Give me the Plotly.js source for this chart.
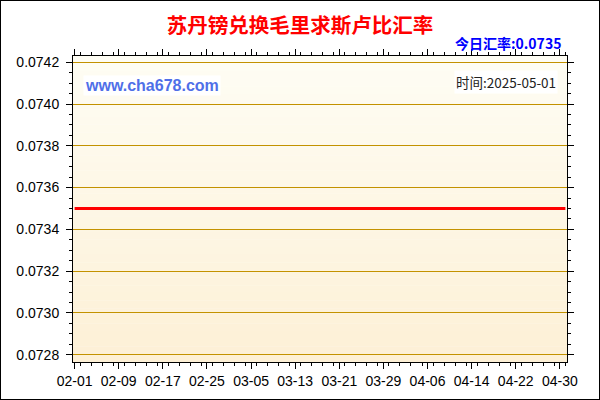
<!DOCTYPE html>
<html>
<head>
<meta charset="utf-8">
<script src="https://cdn.plot.ly/plotly-3.0.1.min.js"></script>
<style>
    body { margin: 0; background: #fff; }
    #chart { width: 598px; height: 398px; border: 1px solid #000; }
</style>
</head>
<body>
<div id="chart"></div>
<script>
// daily rate, Sudanese pound -> Mauritian rupee
var dates = [
    '2025-02-01','2025-02-02','2025-02-03','2025-02-04','2025-02-05','2025-02-06','2025-02-07','2025-02-08','2025-02-09','2025-02-10',
    '2025-02-11','2025-02-12','2025-02-13','2025-02-14','2025-02-15','2025-02-16','2025-02-17','2025-02-18','2025-02-19','2025-02-20',
    '2025-02-21','2025-02-22','2025-02-23','2025-02-24','2025-02-25','2025-02-26','2025-02-27','2025-02-28',
    '2025-03-01','2025-03-02','2025-03-03','2025-03-04','2025-03-05','2025-03-06','2025-03-07','2025-03-08','2025-03-09','2025-03-10',
    '2025-03-11','2025-03-12','2025-03-13','2025-03-14','2025-03-15','2025-03-16','2025-03-17','2025-03-18','2025-03-19','2025-03-20',
    '2025-03-21','2025-03-22','2025-03-23','2025-03-24','2025-03-25','2025-03-26','2025-03-27','2025-03-28','2025-03-29','2025-03-30','2025-03-31',
    '2025-04-01','2025-04-02','2025-04-03','2025-04-04','2025-04-05','2025-04-06','2025-04-07','2025-04-08','2025-04-09','2025-04-10',
    '2025-04-11','2025-04-12','2025-04-13','2025-04-14','2025-04-15','2025-04-16','2025-04-17','2025-04-18','2025-04-19','2025-04-20',
    '2025-04-21','2025-04-22','2025-04-23','2025-04-24','2025-04-25','2025-04-26','2025-04-27','2025-04-28','2025-04-29','2025-04-30',
    '2025-05-01'
];
var rates = [
    0.0735,0.0735,0.0735,0.0735,0.0735,0.0735,0.0735,0.0735,0.0735,0.0735,
    0.0735,0.0735,0.0735,0.0735,0.0735,0.0735,0.0735,0.0735,0.0735,0.0735,
    0.0735,0.0735,0.0735,0.0735,0.0735,0.0735,0.0735,0.0735,
    0.0735,0.0735,0.0735,0.0735,0.0735,0.0735,0.0735,0.0735,0.0735,0.0735,
    0.0735,0.0735,0.0735,0.0735,0.0735,0.0735,0.0735,0.0735,0.0735,0.0735,
    0.0735,0.0735,0.0735,0.0735,0.0735,0.0735,0.0735,0.0735,0.0735,0.0735,0.0735,
    0.0735,0.0735,0.0735,0.0735,0.0735,0.0735,0.0735,0.0735,0.0735,0.0735,
    0.0735,0.0735,0.0735,0.0735,0.0735,0.0735,0.0735,0.0735,0.0735,0.0735,
    0.0735,0.0735,0.0735,0.0735,0.0735,0.0735,0.0735,0.0735,0.0735,0.0735,
    0.0735
];
var yTicks = [0.0728, 0.0730, 0.0732, 0.0734, 0.0736, 0.0738, 0.0740, 0.0742];
var yTickText = ['0.0728', '0.0730', '0.0732', '0.0734', '0.0736', '0.0738', '0.0740', '0.0742'];
var todayRate = '0.0735';
var updated = '2025-05-01';

var DAY = 86400000;
var gridColor = '#c39200';

// background gradient, white-ish at top to pale tan at bottom
var bands = [];
var n = 40;
for (var i = 0; i < n; i++) {
    var t = i / (n - 1);
    var r = Math.round(254 + (253 - 254) * t);
    var g = Math.round(253 + (240 - 253) * t);
    var b = Math.round(244 + (214 - 244) * t);
    bands.push({
        type: 'rect', xref: 'paper', yref: 'paper', layer: 'below',
        x0: 0, x1: 1, y0: 1 - (i + 1) / n, y1: 1 - i / n + 0.001,
        fillcolor: 'rgb(' + r + ',' + g + ',' + b + ')', line: {width: 0}
    });
}

var trace = {
    x: dates,
    y: rates,
    type: 'scatter',
    mode: 'lines',
    line: {color: '#ff0000', width: 3},
    hoverinfo: 'x+y'
};

var layout = {
    width: 598,
    height: 398,
    margin: {l: 72, r: 32, t: 55, b: 37},
    paper_bgcolor: '#ffffff',
    plot_bgcolor: 'rgba(0,0,0,0)',
    showlegend: false,
    font: {family: 'Liberation Sans, Arial, sans-serif', size: 14, color: '#000'},
    title: {
        text: '<b>苏丹镑兑换毛里求斯卢比汇率</b>',
        font: {family: 'Noto Sans CJK SC, sans-serif', size: 20.5, color: '#ff0000'},
        x: 0.5, xanchor: 'center', y: 0.938, yanchor: 'middle'
    },
    xaxis: {
        type: 'date',
        range: ['2025-01-31 17:00', '2025-05-01 07:00'],
        tick0: '2025-02-01',
        dtick: 8 * DAY,
        tickformat: '%m-%d',
        tickfont: {size: 14},
        ticks: 'outside', ticklen: 6, tickcolor: '#000',
        minor: {dtick: 2 * DAY, ticks: 'outside', ticklen: 3, tickcolor: '#000', showgrid: false},
        showgrid: false,
        showline: true, linecolor: '#000', linewidth: 1, mirror: 'ticks',
        zeroline: false,
        fixedrange: true
    },
    yaxis: {
        range: [0.072765, 0.07423],
        tickvals: yTicks,
        ticktext: yTickText,
        tickfont: {size: 14},
        ticklabelstandoff: 4,
        ticks: 'outside', ticklen: 6, tickcolor: '#000',
        minor: {dtick: 0.00005, tick0: 0.0728, ticks: 'outside', ticklen: 3, tickcolor: '#000', showgrid: false},
        showgrid: true, gridcolor: gridColor, gridwidth: 1,
        showline: true, linecolor: '#000', linewidth: 1, mirror: 'ticks',
        zeroline: false,
        fixedrange: true
    },
    shapes: bands,
    annotations: [
        {
            text: '<b>今日汇率:' + todayRate + '</b>',
            xref: 'paper', yref: 'paper', x: 0.992, y: 1.042,
            xanchor: 'right', yanchor: 'middle', showarrow: false,
            font: {family: 'Noto Sans CJK SC, sans-serif', size: 14, color: '#0000ff'}
        },
        {
            text: '<b>www.cha678.com</b>',
            xref: 'paper', yref: 'paper', x: 0.02, y: 0.905,
            xanchor: 'left', yanchor: 'middle', showarrow: false,
            bgcolor: '#ffffff',
            font: {family: 'Liberation Sans, Arial, sans-serif', size: 16, color: '#4f6fe8'}
        },
        {
            text: '时间:' + updated,
            xref: 'paper', yref: 'paper', x: 0.982, y: 0.915,
            xanchor: 'right', yanchor: 'middle', showarrow: false,
            bgcolor: '#ffffff',
            font: {family: 'Noto Sans CJK SC, sans-serif', size: 13.5, color: '#222'}
        }
    ]
};

Plotly.newPlot('chart', [trace], layout, {displayModeBar: false, staticPlot: true});
</script>
</body>
</html>
